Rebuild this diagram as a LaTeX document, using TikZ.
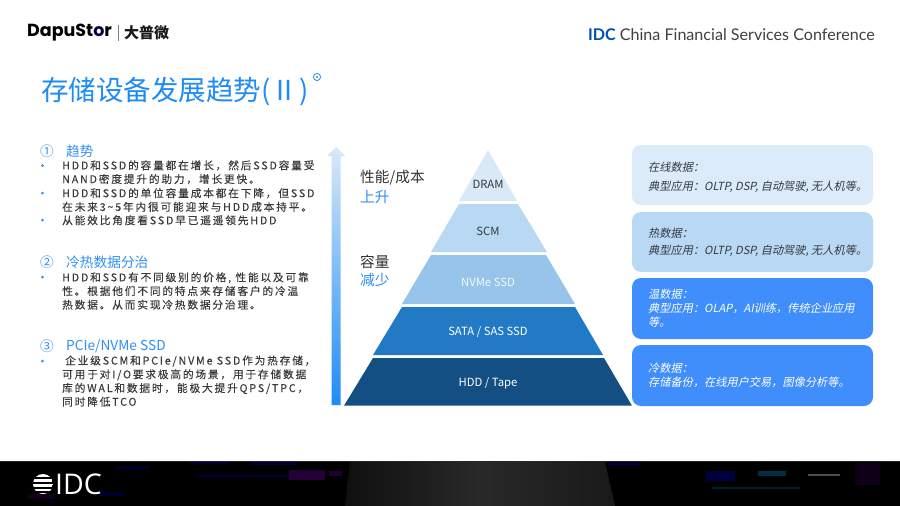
\documentclass[tikz,border=0pt]{standalone}
\usepackage{fontspec}
\setmainfont{Noto Sans CJK SC}
\newfontfamily\cjkreg{Noto Sans CJK SC}
\newfontfamily\cjkital[FakeSlant=0.2]{Noto Sans CJK SC}
\newfontfamily\cjkspaced[LetterSpace=17,FakeBold=0.15]{Noto Sans CJK SC}
\newfontfamily\latinhead{Lato}
\newfontfamily\logofont{Poppins}
\newfontfamily\idcfont{Open Sans}
\definecolor{idcblue}{HTML}{1E8CF5}
\definecolor{headblue}{HTML}{2F8FF5}
\definecolor{bodygrey}{HTML}{3A3A3A}
\definecolor{labgrey}{HTML}{333A40}
\definecolor{layA}{HTML}{D9E9F8}
\definecolor{layB}{HTML}{B9D8F3}
\definecolor{layC}{HTML}{97C4EA}
\definecolor{layD}{HTML}{227AC4}
\definecolor{layE}{HTML}{134F83}
\definecolor{boxA}{HTML}{DCEBFA}
\definecolor{boxB}{HTML}{B9D8F3}
\definecolor{boxC}{HTML}{3F8EFC}
\tikzset{
  x=1pt,y=-1pt,
  body/.style={anchor=west,inner sep=0pt,align=left,text=bodygrey,
     font={\cjkspaced\fontsize{10.7}{13.7}\selectfont}},
  head/.style={anchor=west,inner sep=0pt,text=headblue,
     font={\cjkreg\fontsize{13.7}{15}\selectfont}},
  bullet/.style={circle,fill=headblue,inner sep=0pt,minimum size=3pt},
  laylabel/.style={inner sep=0pt,font={\cjkreg\fontsize{11.3}{13}\selectfont}},
  sidelab/.style={anchor=west,inner sep=0pt,font={\cjkreg\fontsize{14.7}{17}\selectfont}},
  infobox/.style={rounded corners=9pt,draw=none},
  infotext/.style={anchor=west,inner sep=0pt,align=left,
     font={\cjkital\fontsize{11.2}{14}\selectfont}},
}
\begin{document}
\begin{tikzpicture}
\useasboundingbox (0,0) rectangle (900,506);
\fill[white] (0,0) rectangle (900,506);

% header
\node[anchor=west,inner sep=0pt,text=black,font={\logofont\bfseries\fontsize{17.5}{20}\selectfont}] (logo) at (27,33) {DapuSt\textcolor{black!70!blue}{o}r};
\draw[gray,line width=.7pt] (118.5,25) -- (118.5,41);
\node[anchor=west,inner sep=0pt,text=black!90,font={\cjkreg\bfseries\fontsize{15}{17}\selectfont}] (logocn) at (124,33) {大普微};
\node[anchor=east,inner sep=0pt,text=black!75,font={\latinhead\fontsize{16.1}{19}\selectfont}] (conf) at (875,35) {\textcolor{blue!55!cyan!70!black}{\bfseries IDC} China Financial Services Conference};

% title
\node[anchor=west,inner sep=0pt,text=idcblue,font={\cjkreg\fontsize{27.5}{30}\selectfont}] (title) at (41,92) {存储设备发展趋势(\hspace{6pt}II\hspace{7pt})};
\draw[idcblue,line width=.8pt] (317,77) circle (3.6);
\fill[idcblue] (317,77) circle (1.2);

% left column
\node[head] (h1n) at (40,151) {①};
\node[head] (h1) at (66,151) {趋势};
\node[bullet] (b1) at (42.5,165.5) {};
\node[bullet] (b2) at (42.5,193) {};
\node[bullet] (b3) at (42.5,220) {};
\node[body] (t1) at (62,172.3) {HDD和SSD的容量都在增长，然后SSD容量受\\NAND密度提升的助力，增长更快。};
\node[body] (t2) at (62,200) {HDD和SSD的单位容量成本都在下降，但SSD\\在未来3\textasciitilde 5年内很可能迎来与HDD成本持平。};
\node[body] (t3) at (62,220.3) {从能效比角度看SSD早已遥遥领先HDD};

\node[head] (h2n) at (40,262) {②};
\node[head] (h2) at (66,262) {冷热数据分治};
\node[bullet] (b4) at (42.5,277) {};
\node[body] (t4) at (62,291) {HDD和SSD有不同级别的价格, 性能以及可靠\\性。根据他们不同的特点来存储客户的冷温\\热数据。从而实现冷热数据分治理。};

\node[head] (h3n) at (40,346) {③};
\node[head] (h3) at (66,346) {PCIe/NVMe SSD};
\node[bullet] (b5) at (42.5,361) {};
\node[body] (t5a) at (65,361) {企业级SCM和PCIe/NVMe SSD作为热存储，};
\node[body] (t5) at (62,388) {可用于对I/O要求极高的场景，用于存储数据\\库的WAL和数据时，能极大提升QPS/TPC，\\同时降低TCO};

% arrow
\shade[top color=layA,bottom color=idcblue]
  (336,147) -- (345,156) -- (340.5,156) -- (340.5,405) -- (331.5,405) -- (331.5,156) -- (327,156) -- cycle;

\node[sidelab,text=black!80] (s1) at (360,178) {性能/成本};
\node[sidelab,text=headblue] (s2) at (360,197) {上升};
\node[sidelab,text=black!80] (s3) at (360,262) {容量};
\node[sidelab,text=headblue] (s4) at (360,280) {减少};

% pyramid
\fill[layA] (488,150) -- (517,201) -- (459,201) -- cycle;
\fill[layB] (459,204) -- (518,204) -- (547,252) -- (431,252) -- cycle;
\fill[layC] (431,255) -- (546,255) -- (575,304) -- (402,304) -- cycle;
\fill[layD] (402,307) -- (575,307) -- (603,355) -- (373,355) -- cycle;
\fill[layE] (373,358) -- (604,358) -- (632,405.7) -- (344,405.7) -- cycle;
\node[laylabel,text=labgrey] (l1) at (488,184) {DRAM};
\node[laylabel,text=labgrey] (l2) at (488,231) {SCM};
\node[laylabel,text=white!90!layC] (l3) at (488,282) {NVMe SSD};
\node[laylabel,text=white] (l4) at (488,332) {SATA / SAS SSD};
\node[laylabel,text=white] (l5) at (488,383) {HDD / Tape};

% info boxes
\fill[boxA,infobox] (632,145) rectangle (873,205);
\fill[boxB,infobox] (632,212) rectangle (873,272);
\fill[boxC,infobox] (632,278) rectangle (873,339);
\fill[boxC,infobox] (632,345) rectangle (873,406);
\node[infotext,text=labgrey] (i1a) at (648,167) {在线数据：};
\node[infotext,text=labgrey] (i1b) at (648,187) {典型应用：OLTP, DSP, 自动驾驶, 无人机等。};
\node[infotext,text=labgrey] (i2a) at (648,233) {热数据：};
\node[infotext,text=labgrey] (i2b) at (648,251) {典型应用：OLTP, DSP, 自动驾驶, 无人机等。};
\node[infotext,text=white] (i3) at (648,308.5) {温数据：\\典型应用：OLAP，AI训练，传统企业应用\\等。};
\node[infotext,text=white] (i4) at (648,375) {冷数据：\\存储备份，在线用户交易，图像分析等。};

% footer band
\fill[black] (0,461) rectangle (900,506);
\fill[black!85] (0,461) rectangle (900,462);
\shade[left color=black!94,right color=black!84] (350,462) -- (480,462) -- (480,506) -- (345,506) -- cycle;
\shade[left color=black!84,right color=black!90] (480,462) -- (605,462) -- (615,506) -- (480,506) -- cycle;
\fill[blue!18!black] (115,466) rectangle (150,469);
\fill[blue!20!black] (190,462) rectangle (230,464);
\fill[blue!20!black] (250,462) rectangle (297,465);
\fill[blue!25!black] (198,475) rectangle (290,476.5);
\fill[red!40!blue!35!black] (289,470) rectangle (325,480);
\fill[red!40!blue!30!black] (329,471) rectangle (342,476);
\fill[blue!18!black] (100,492) rectangle (125,496);
\fill[red!40!blue!18!black] (28,494) rectangle (55,499);
\fill[blue!30!black] (607,463) rectangle (640,465);
\fill[blue!25!black] (706,471) rectangle (735,481);
\fill[green!40!blue!45!black] (758,471) rectangle (786,476);
\fill[green!40!blue!30!black] (712,487) rectangle (800,488.5);
\fill[white!30!black] (808,474) rectangle (840,475.5);
\fill[red!40!blue!15!black] (855,463) rectangle (880,485);
% IDC logo
\begin{scope}
  \clip (43,484) circle (10);
  \fill[white] (33,474) rectangle (53,477);
  \fill[white] (33,479) rectangle (53,482);
  \fill[white] (33,484) rectangle (53,487);
  \fill[white] (33,489) rectangle (53,491);
  \fill[white] (33,492.5) rectangle (53,494);
\end{scope}
\node[anchor=west,inner sep=0pt,text=white,font={\idcfont\fontsize{28.5}{32}\selectfont}] (idc) at (55,484) {IDC};
\end{tikzpicture}
\end{document}
